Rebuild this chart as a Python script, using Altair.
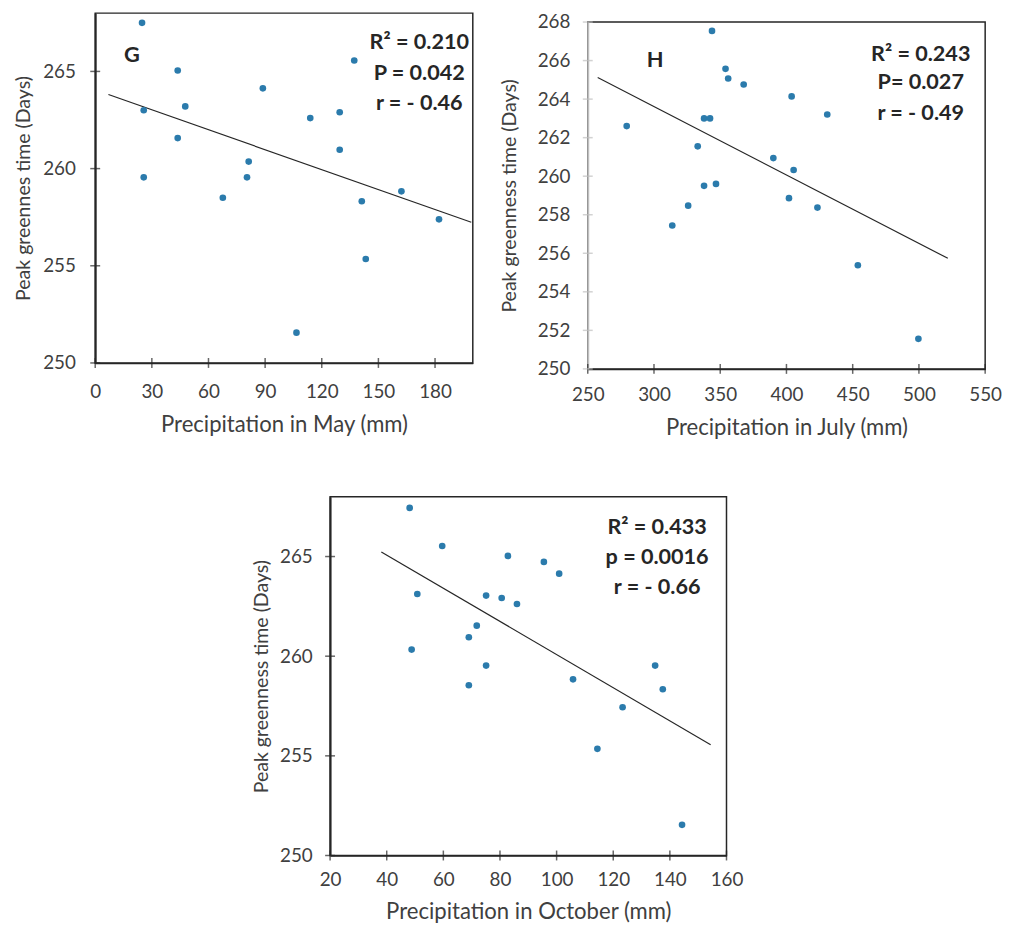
import altair as alt
import pandas as pd

FONT = "Lato"
PT_COLOR = "#2b7bac"
DARK = "#262626"
LABEL_COLOR = "#404040"
GRAY_AXIS = "#bfbfbf"

# ---------------- Panel G (May) ----------------
g_x = [24.8, 43.7, 25.7, 47.7, 43.7, 25.7, 67.6, 80.4, 81.3, 88.8, 106.6,
       113.9, 129.5, 129.5, 137.2, 141.2, 143.3, 162.2, 182.1]
g_y = [267.5, 265.05, 263.0, 263.2, 261.57, 259.55, 258.5, 259.55, 260.36,
       264.13, 251.56, 262.6, 262.9, 260.97, 265.56, 258.32, 255.35, 258.83, 257.39]
g_fit_x = [7.0, 199.2]
g_fit_y = [263.81, 257.24]
g_xticks = [0, 30, 60, 90, 120, 150, 180]
g_yticks = [250, 255, 260, 265]
g_stats = ["R² = 0.210", "P = 0.042", "r = - 0.46"]

# ---------------- Panel H (July) ----------------
h_x = [279.4, 343.8, 354.0, 356.0, 367.7, 403.9, 430.8, 337.8, 342.3, 333.0,
       390.1, 405.4, 337.8, 346.8, 401.9, 325.8, 423.4, 313.8, 453.9, 499.6]
h_y = [262.6, 267.54, 265.57, 265.07, 264.76, 264.14, 263.2, 263.0, 263.0, 261.55,
       260.94, 260.32, 259.5, 259.6, 258.86, 258.47, 258.37, 257.44, 255.38, 251.56]
h_fit_x = [257.5, 521.8]
h_fit_y = [265.12, 255.74]
h_xticks = [250, 300, 350, 400, 450, 500, 550]
h_yticks = [250, 252, 254, 256, 258, 260, 262, 264, 266, 268]
h_stats = ["R² = 0.243", "P= 0.027", "r = - 0.49"]

# ---------------- Panel (October) ----------------
o_x = [48.1, 59.6, 82.8, 95.5, 100.9, 50.8, 75.1, 80.6, 86.0, 71.8,
       69.0, 48.8, 75.1, 134.8, 105.8, 69.0, 137.5, 123.3, 114.4, 144.3]
o_y = [267.44, 265.53, 265.03, 264.73, 264.14, 263.12, 263.04, 262.92, 262.62, 261.53,
       260.95, 260.33, 259.53, 259.53, 258.84, 258.54, 258.34, 257.44, 255.35, 251.54]
o_fit_x = [38.1, 154.4]
o_fit_y = [265.23, 255.56]
o_xticks = [20, 40, 60, 80, 100, 120, 140, 160]
o_yticks = [250, 255, 260, 265]
o_stats = ["R² = 0.433", "p = 0.0016", "r = - 0.66"]


def panel(px, py, fx, fy, xdom, xticks, ydom, yticks, xtitle, ytitle, stats,
          letter, w, h, stat_x, stat_ys, letter_pos, y_color,
          y_label_pad, y_title_pad, x_label_pad, x_title_pad):
    xs = alt.Scale(domain=xdom, nice=False, zero=False)
    ys = alt.Scale(domain=ydom, nice=False, zero=False)
    xaxis = alt.Axis(values=xticks, title=xtitle, ticks=False, grid=False,
                     labelFlush=False, labelOverlap=False,
                     labelPadding=x_label_pad, titlePadding=x_title_pad,
                     domainColor=DARK, domainWidth=1.5, titleFontSize=22.3)
    yaxis = alt.Axis(values=yticks, title=ytitle, ticks=False, grid=False,
                     labelFlush=False, labelOverlap=False,
                     labelPadding=y_label_pad, titlePadding=y_title_pad,
                     domainColor=y_color, domainWidth=2, titleFontSize=19.7)
    X = alt.X("x:Q", scale=xs, axis=xaxis)
    Y = alt.Y("y:Q", scale=ys, axis=yaxis)
    points = alt.Chart(pd.DataFrame({"x": px, "y": py})).mark_circle(
        size=45, color=PT_COLOR, opacity=1).encode(x=X, y=Y)
    fit = alt.Chart(pd.DataFrame({"x": fx, "y": fy})).mark_line(
        color=DARK, strokeWidth=1.2).encode(x=X, y=Y)
    xt = alt.Chart(pd.DataFrame({"x": xticks})).mark_tick(
        color=DARK, thickness=1.5, size=10).encode(x=X, y=alt.value(h))
    yt = alt.Chart(pd.DataFrame({"y": yticks})).mark_tick(
        color=y_color, thickness=1.5, size=10).encode(y=Y, x=alt.value(0))
    layers = [xt, yt, fit, points]
    for s, sy in zip(stats, stat_ys):
        layers.append(alt.Chart(pd.DataFrame({"t": [s]})).mark_text(
            font=FONT, fontSize=21.8, fontWeight="bold", color=DARK,
            align="center", baseline="middle").encode(
            text="t:N", x=alt.value(stat_x), y=alt.value(sy)))
    if letter:
        layers.append(alt.Chart(pd.DataFrame({"t": [letter]})).mark_text(
            font=FONT, fontSize=22, fontWeight="bold", color=DARK,
            align="center", baseline="middle").encode(
            text="t:N", x=alt.value(letter_pos[0]), y=alt.value(letter_pos[1])))
    return alt.layer(*layers).properties(width=w, height=h)


g = panel(g_x, g_y, g_fit_x, g_fit_y, [0, 200], g_xticks, [250, 268], g_yticks,
          "Precipitation in May (mm)", "Peak greennes time (Days)", g_stats,
          "G", 381, 353, 327, [29, 60, 91], (37, 42), DARK,
          20, 9, 20, 12)

hp = panel(h_x, h_y, h_fit_x, h_fit_y, [250, 550], h_xticks, [250, 268], h_yticks,
           "Precipitation in July (mm)", "Peak greenness time (Days)", h_stats,
           "H", 401, 350, 336, [32, 61, 92], (68, 38), GRAY_AXIS,
           18, 18, 17, 12)

o = panel(o_x, o_y, o_fit_x, o_fit_y, [20, 160], o_xticks, [250, 268], o_yticks,
          "Precipitation in October (mm)", "Peak greenness time (Days)", o_stats,
          None, 400, 362, 330, [31, 61, 91], None, DARK,
          18, 8, 15, 12)


def spacer(w, h):
    return alt.Chart(pd.DataFrame({"a": [0]})).mark_point(opacity=0).properties(
        width=w, height=h, view=alt.ViewBackground(stroke="transparent"))


h_col = alt.vconcat(spacer(1, 9), hp, spacing=0, bounds="flush")
top = alt.hconcat(g, h_col, spacing=116, bounds="flush")
bottom = alt.hconcat(spacer(156, 10), o, spacing=0)

chart = alt.vconcat(top, bottom, spacing=56).properties(
    padding={"left": 5, "top": 0, "right": 0, "bottom": 0},
    background="white"
).configure_view(
    stroke=DARK, strokeWidth=1.5
).configure_axis(
    labelFont=FONT, labelFontSize=19, labelColor=LABEL_COLOR,
    titleFont=FONT, titleFontWeight="normal", titleColor=LABEL_COLOR
)

chart.save("out.html", embed_options={"renderer": "svg", "actions": False})
